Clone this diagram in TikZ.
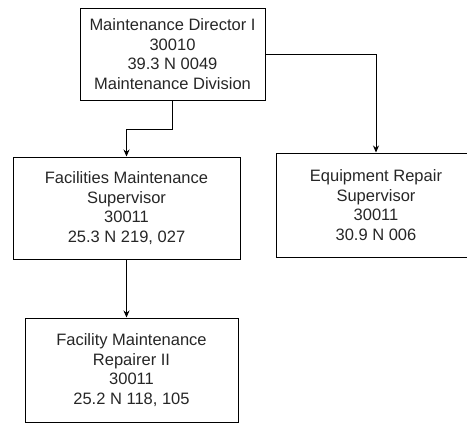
\documentclass[tikz,border=0pt]{standalone}
\usepackage{fontspec}
\setmainfont{Liberation Sans}
\usetikzlibrary{positioning,arrows.meta,calc}

\begin{document}
\begin{tikzpicture}[
    x=1pt,y=-1pt,
    font=\fontsize{16.5}{19.5}\selectfont,
    box/.style={draw,line width=1pt,align=center,inner sep=0pt,text=black!85},
    arr/.style={-{Stealth[length=7pt,width=6pt]},line width=0.9pt}
  ]
    \useasboundingbox (0,0) rectangle (467,424);

    \node[box,minimum width=185,minimum height=92] (dir) at (172.5,54) {Maintenance Director I\\30010\\39.3 N 0049\\Maintenance Division};
    \node[box,minimum width=227,minimum height=102] (fac) at (126.5,208) {Facilities Maintenance\\Supervisor\\30011\\25.3 N 219, 027};
    \node[box,minimum width=200,minimum height=104] (equip) at (376,205) {Equipment Repair\\Supervisor\\30011\\30.9 N 006};
    \node[box,minimum width=213,minimum height=104] (rep) at (131.5,370) {Facility Maintenance\\Repairer II\\30011\\25.2 N 118, 105};

    \coordinate (jl) at (172.5,129);

    \draw[arr] (dir.south) -- (jl) -| (fac.north);
    \draw[arr] (dir.east) -| (equip.north);
    \draw[arr] (fac.south) -- (fac.south |- rep.north);
  \end{tikzpicture}
\end{document}
